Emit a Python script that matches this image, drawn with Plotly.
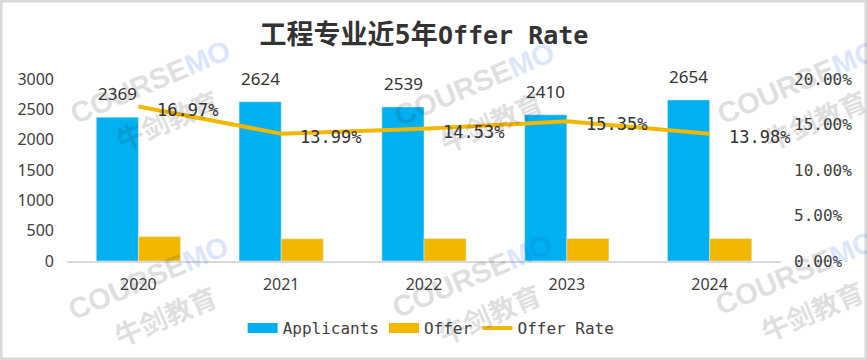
import plotly.graph_objects as go

years = ["2020", "2021", "2022", "2023", "2024"]
applicants = [2369, 2624, 2539, 2410, 2654]
offers = [402, 367, 369, 370, 371]
offer_rate = [16.97, 13.99, 14.53, 15.35, 13.98]
rate_labels = ["16.97%", "13.99%", "14.53%", "15.35%", "13.98%"]

blue = "#00B0F0"
gold = "#F2B800"
mono = "DejaVu Sans Mono, Noto Sans CJK SC"
sans = "Noto Sans, Noto Sans CJK SC"
txt = "#404040"

W, H = 867, 360
L, R, T, B = 67, 86, 79, 99
PW, PH = W - L - R, H - T - B


def px(x):
    return (x - L) / PW


def py(y):
    return (H - B - y) / PH


fig = go.Figure()
fig.add_trace(go.Bar(
    x=years, y=applicants, name="Applicants", marker_color=blue,
    offsetgroup="a", yaxis="y", showlegend=False,
))
fig.add_trace(go.Bar(
    x=years, y=offers, name="Offer", marker_color=gold,
    offsetgroup="b", yaxis="y", showlegend=False,
))
# legend swatches (wide rectangles as in the reference)
fig.add_trace(go.Scatter(x=[None], y=[None], mode="lines", name="Applicants",
                         line=dict(color=blue, width=15), hoverinfo="skip"))
fig.add_trace(go.Scatter(x=[None], y=[None], mode="lines", name="Offer",
                         line=dict(color=gold, width=15), hoverinfo="skip"))
fig.add_trace(go.Scatter(
    x=years, y=offer_rate, name="Offer Rate", mode="lines",
    line=dict(color=gold, width=4), yaxis="y2", cliponaxis=False,
))

ann = []
# watermarks (semi-transparent)
centers = [(150, 82), (474, 84), (798, 82), (148, 278), (472, 276), (795, 273)]
for cx, cy in centers:
    ann.append(dict(text='<b>COURSE<span style="color:#1660e8">MO</span></b>',
                    x=px(cx), y=py(cy), xref="paper", yref="paper", showarrow=False,
                    textangle=-23, xanchor="center", yanchor="middle", opacity=0.15,
                    font=dict(family="Liberation Sans", size=29, color="#333333")))
    ann.append(dict(text="<b>牛剑教育</b>", x=px(cx + 17), y=py(cy + 37), xref="paper", yref="paper",
                    showarrow=False, textangle=-23, xanchor="center", yanchor="middle",
                    opacity=0.15,
                    font=dict(family="Noto Sans CJK SC", size=27, color="#333333")))

# applicants labels above blue bars (category index positions)
for i, v in enumerate(applicants):
    ann.append(dict(x=i, y=v, xref="x", yref="y", text=str(v), showarrow=False,
                    xanchor="center", yanchor="bottom", xshift=-21, yshift=10,
                    font=dict(family=sans, size=17, color="#333333")))
# rate labels right of points
for i, (r, lab) in enumerate(zip(offer_rate, rate_labels)):
    ann.append(dict(x=i, y=r, xref="x", yref="y2", text=lab, showarrow=False,
                    xanchor="left", yanchor="middle", xshift=17, yshift=-3,
                    font=dict(family=mono, size=17, color="#333333")))

fig.update_layout(
    width=W, height=H,
    paper_bgcolor="white", plot_bgcolor="white",
    margin=dict(l=L, r=R, t=T, b=B, autoexpand=False),
    title=dict(text="<b><span style='font-size:27px'>工程专业近5年</span>Offer Rate</b>",
               x=0.5, xanchor="center", xref="paper", y=1 - 35 / H, yref="container",
               yanchor="middle", automargin=False,
               font=dict(family=mono, size=25, color="#333333")),
    barmode="group", bargap=0.41, bargroupgap=0.0,
    showlegend=True,
    legend=dict(orientation="h", x=0.51, xanchor="center", y=py(328), yanchor="middle",
                font=dict(family=mono, size=16, color=txt), traceorder="normal",
                itemwidth=30),
    xaxis=dict(type="category", range=[-0.5, len(years) - 0.5], showline=True,
               linecolor="#d9d9d9", linewidth=2, ticklabelstandoff=8,
               ticks="", tickfont=dict(family=sans, size=16, color=txt), showgrid=False,
               automargin=False),
    yaxis=dict(range=[0, 3000], dtick=500, showgrid=False, zeroline=False,
               ticklabelstandoff=12,
               tickfont=dict(family=sans, size=16, color=txt), ticks="", automargin=False),
    yaxis2=dict(range=[0, 20], dtick=5, overlaying="y", side="right", showgrid=False,
                zeroline=False, ticksuffix="%", tickformat=".2f", automargin=False,
                ticklabelstandoff=12,
                tickfont=dict(family=mono, size=16, color=txt), ticks=""),
    annotations=ann,
    shapes=[dict(type="rect", xref="paper", yref="paper", x0=px(1), x1=px(W - 1),
                 y0=py(H - 1), y1=py(1), line=dict(color="#d9d9d9", width=3))],
)

fig.write_html("out.html", config={"displayModeBar": False},
               post_script="document.body.style.margin='0';document.body.style.overflow='hidden';")
